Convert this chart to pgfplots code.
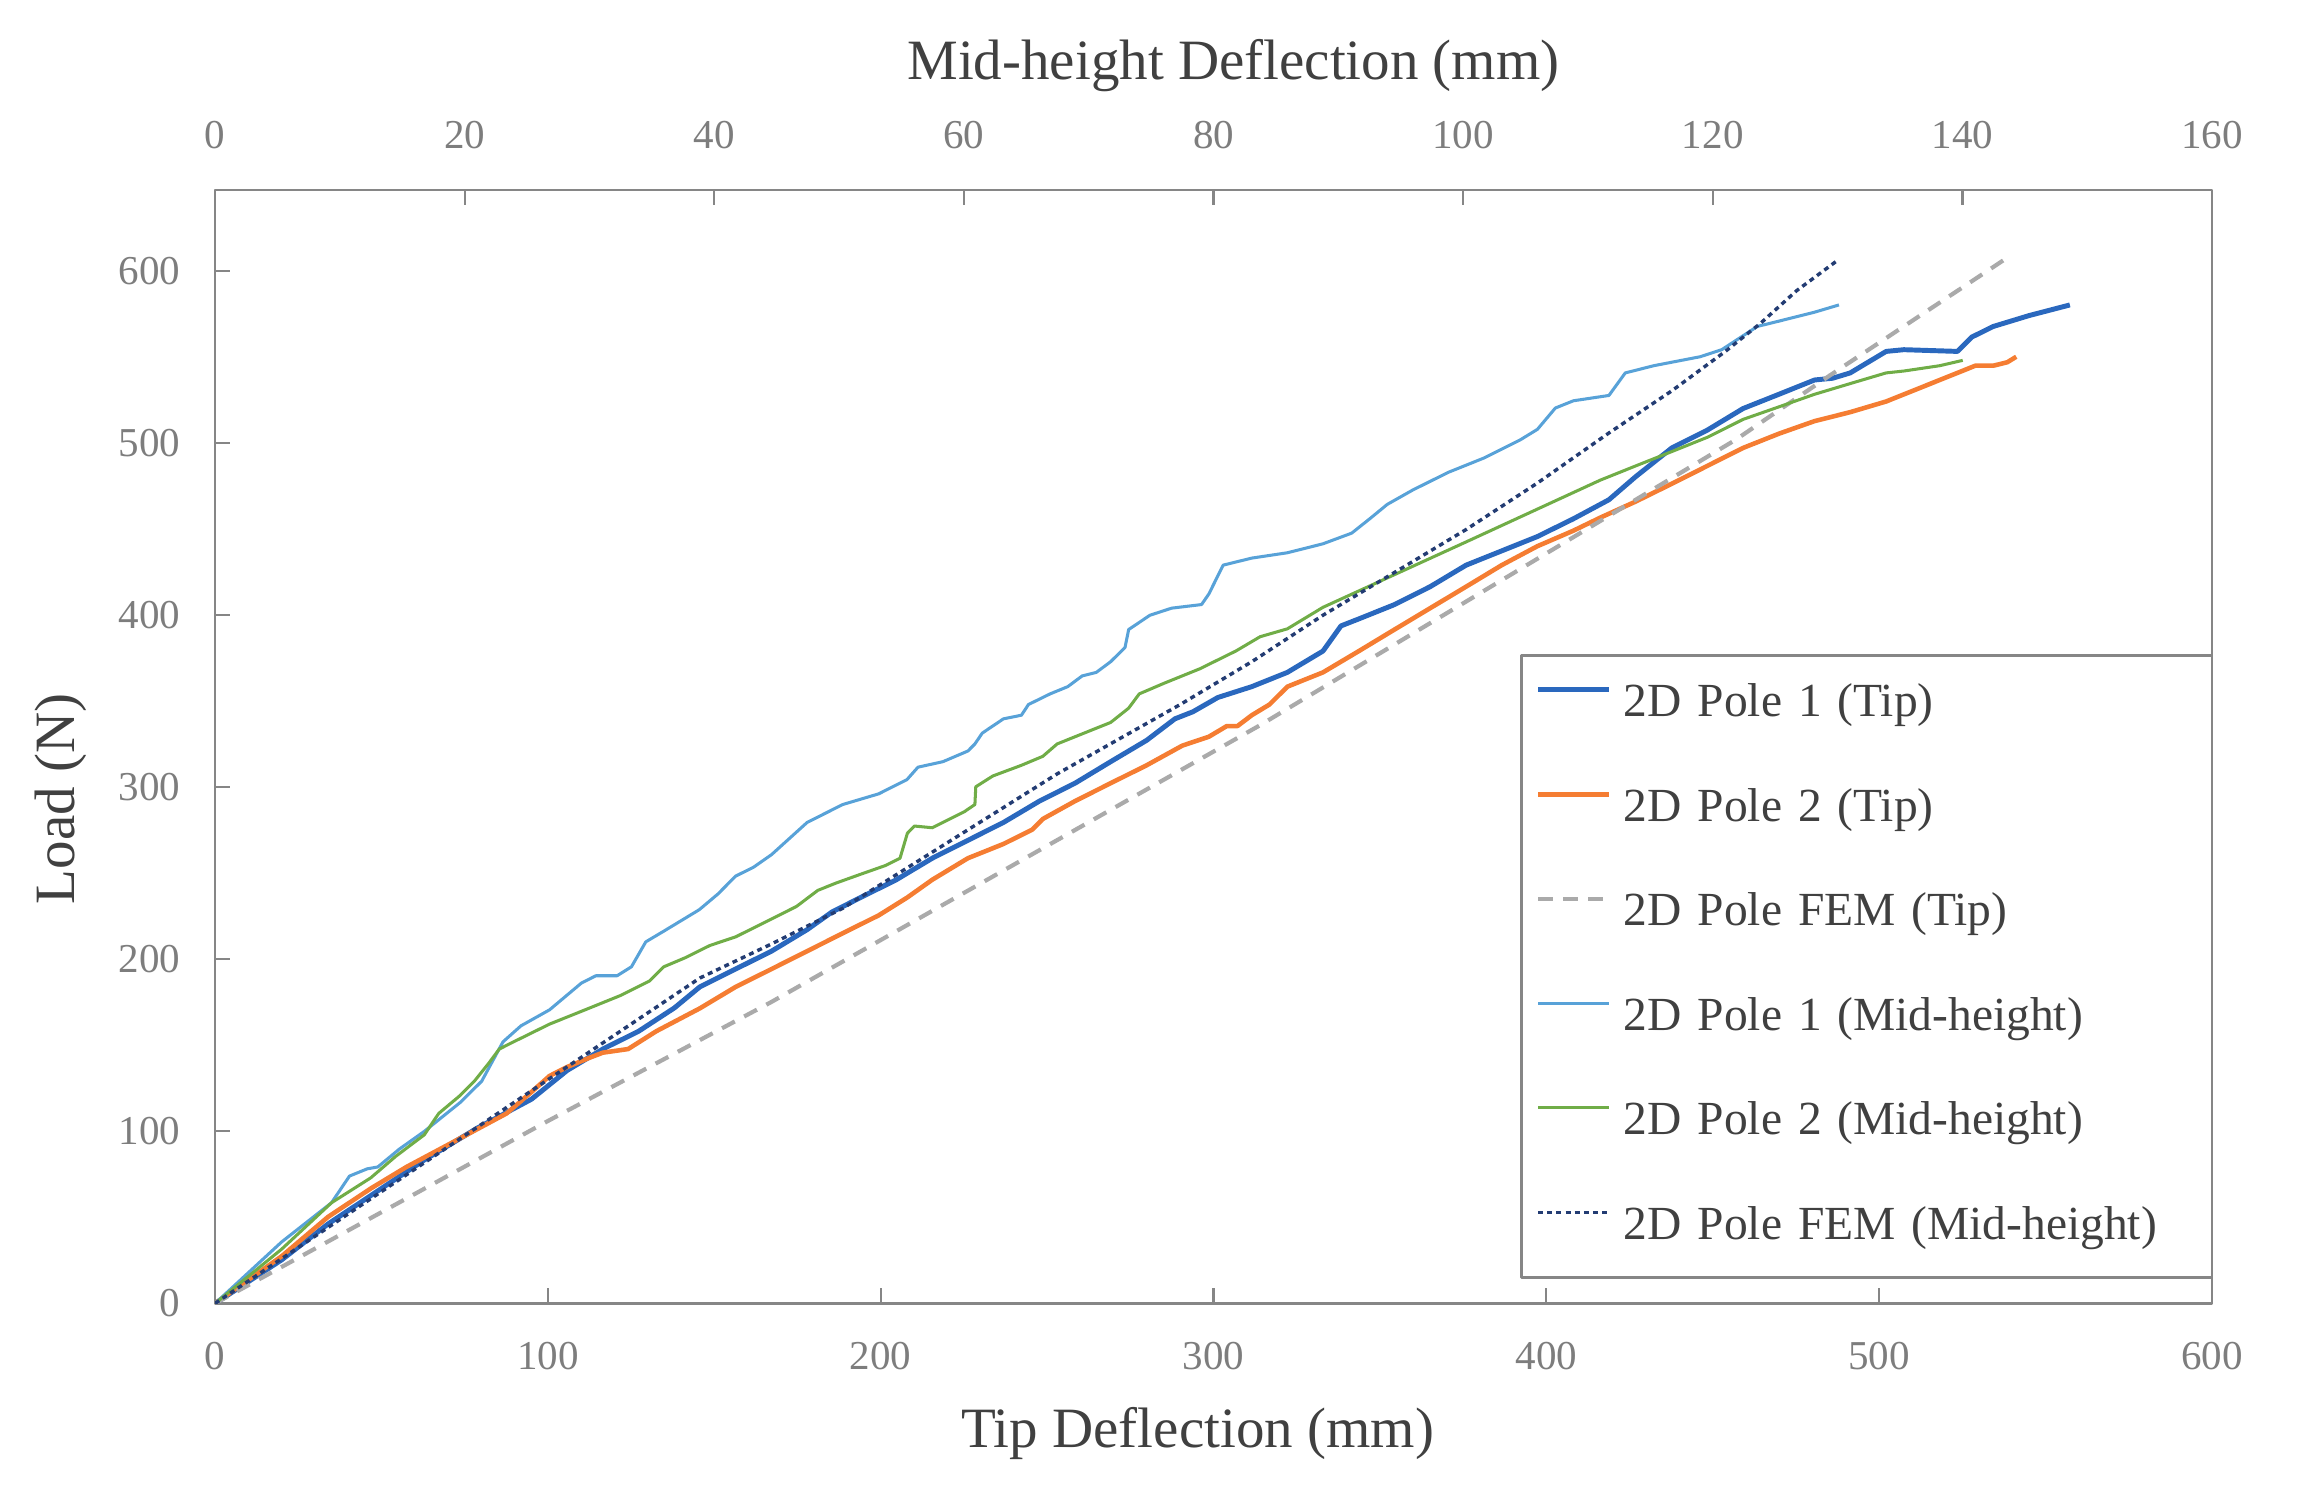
\documentclass[border=0pt]{standalone}
\usepackage{fontspec}
\setmainfont{Liberation Serif}
\usepackage{pgfplots}
\pgfplotsset{compat=1.18}
\definecolor{p1tip}{RGB}{42,104,190}
\definecolor{p2tip}{RGB}{245,125,50}
\definecolor{femtip}{RGB}{170,170,170}
\definecolor{p1mid}{RGB}{88,162,216}
\definecolor{p2mid}{RGB}{112,173,71}
\definecolor{femmid}{RGB}{35,60,115}
\definecolor{axgray}{RGB}{134,134,134}
\definecolor{tickgray}{RGB}{125,125,125}
\definecolor{labgray}{RGB}{64,64,64}
\pgfplotsset{
  common/.style={
    scale only axis, width=525.5pt, height=293pt,
    ymin=0, ymax=647,
    tick align=inside,
    major tick length=4pt,
    every tick/.style={axgray, line width=0.6pt},
    /pgf/number format/assume math mode=true,
    ticklabel style={font=\fontsize{10.8}{12}\selectfont, text=tickgray},
    label style={font=\fontsize{15}{18}\selectfont, text=labgray},
    line join=round,
  }
}
\begin{document}
\begin{tikzpicture}
\useasboundingbox (-56.6pt,-51.4pt) rectangle (548.4pt,343pt);
\begin{axis}[common,
  xmin=0, xmax=600,
  xtick={0,100,...,600}, ytick={0,100,...,600},
  xtick pos=left, ytick pos=left,
  axis line style={axgray, line width=0.65pt},
  xticklabel shift=6.6pt, yticklabel shift=5.6pt,
  xlabel={Tip Deflection (mm)},
  xlabel style={at={(axis description cs:0.492,-0.117)}, anchor=center},
  ylabel={Load (N)},
  ylabel style={at={(axis description cs:-0.0772,0.453)}, anchor=center},
]
\addplot[p1tip, line width=1.3pt] coordinates {
(0,0)(20,25.3)(33.9,46.1)(46.8,62.7)(62.9,83.4)(79,102.1)(95.1,118.7)(105.8,135.4)(116.5,147.8)(127.3,158.2)(138,171.7)(145.7,184)(156.4,194.3)(167.2,204.7)(177.9,217.2)(185.4,227.5)(194,235.9)(204.7,246.2)(215.5,258.7)(226.2,269.1)(236.9,279.5)(247.7,291.9)(258.4,302.3)(269.1,314.8)(279.9,327.2)(288.4,339.7)(293.8,343.8)(301.3,352.1)(311.5,358.4)(322.2,366.7)(332.9,379.1)(338.3,393.7)(343.7,397.8)(354.4,406.1)(365.1,416.5)(375.9,429)(386.6,437.3)(397.3,445.6)(408.1,455.9)(418.8,467)(426.9,480.5)(437.7,497.1)(448.4,507.5)(459.1,520)(469.9,528.3)(480.6,536.6)(486,537.6)(491.3,540.7)(502.1,553.2)(507.4,554.2)(523.5,553.2)(527.8,561.5)(534.3,567.7)(545,574)(557.3,580.2)
};
\addplot[p2tip, line width=1.2pt] coordinates {
(0,0)(20,27.4)(33.9,50.2)(46.8,66.8)(57.5,79.3)(73.6,95.9)(87.6,110.4)(95.1,122.9)(100.5,132.2)(105.8,137.4)(112.3,142.6)(116.5,145.7)(124.1,147.8)(132.6,158.2)(145.7,171.5)(156.4,183.9)(167.2,194.3)(177.9,204.7)(188.6,215.1)(199.4,225.5)(208,235.9)(215.5,246.2)(226.2,258.7)(236.9,267)(245.5,275.3)(248.7,281.5)(258.4,291.9)(269.1,302.3)(279.9,312.7)(290.6,324.1)(298.6,329.3)(304,335.5)(307.2,335.5)(311.5,341.8)(316.8,348)(322.2,358.4)(332.9,366.7)(343.7,379.1)(354.4,391.6)(365.1,404)(375.9,416.5)(386.6,429)(397.3,440)(408.1,449)(416.2,456.6)(426.9,466)(437.7,476.3)(448.4,486.7)(459.1,497.1)(469.9,505.4)(480.6,512.7)(491.3,517.9)(502.1,524.1)(512.8,532.4)(523.5,540.7)(528.9,544.9)(534.3,544.9)(538.5,546.9)(541.2,550.1)
};
\addplot[femtip, line width=1.1pt, dash pattern=on 3.8pt off 2.8pt] coordinates {
(0,0)(100,106)(167,175)(314,336)(457,502)(485,539)(538,607)
};
\end{axis}
\begin{axis}[common,
  xmin=0, xmax=160,
  xtick={0,20,...,160}, ytick=\empty,
  xtick pos=right, xticklabel pos=right,
  axis line style={draw=none},
  xticklabel shift=7.3pt,
  xlabel={Mid-height Deflection (mm)},
  xlabel style={at={(axis description cs:0.51,1.1114)}, anchor=center},
  legend image code/.code={\draw[#1] (0pt,4.1pt) -- (18.7pt,4.1pt);},
  legend style={
    at={(axis description cs:0.6535,0.5829)}, anchor=north west,
    draw=axgray, line width=0.65pt,
    inner xsep=3.8pt, inner ysep=7.1pt,
    row sep=15.5pt, column sep=3.2pt,
    font=\fontsize{12.5}{15}\selectfont, text=labgray,
    nodes={inner sep=0pt, text height=9pt, text depth=3pt, text width=151pt},
    cells={anchor=west},
  },
]
\addlegendimage{p1tip, line width=1.3pt}
\addlegendentry{2D Pole 1 (Tip)}
\addlegendimage{p2tip, line width=1.2pt}
\addlegendentry{2D Pole 2 (Tip)}
\addlegendimage{femtip, line width=1.1pt, dash pattern=on 3.8pt off 2.8pt}
\addlegendentry{2D Pole FEM (Tip)}
\addplot[p1mid, line width=0.8pt] coordinates {
(0,0)(5.33,35.7)(9.33,58.5)(10.77,74)(12.19,78.2)(13.04,79.3)(14.77,89.7)(16.77,100)(19.63,116.7)(21.36,129.1)(23.07,152)(24.51,161.3)(26.8,170.6)(29.36,186.2)(30.51,190.4)(32.21,190.4)(33.36,195.6)(34.51,210.1)(35.95,216.3)(38.8,228.8)(40.29,237.9)(41.71,248.3)(43.15,253.5)(44.59,260.8)(47.44,279.5)(50.29,289.9)(53.17,296.1)(55.44,304.4)(56.32,311.6)(58.32,314.8)(60.32,321)(60.88,325.1)(61.47,331.4)(63.17,339.7)(64.61,341.8)(65.17,348)(66.91,354.2)(68.32,358.4)(69.47,364.6)(70.61,366.7)(71.76,372.9)(72.91,381.2)(73.2,391.6)(74.91,399.9)(76.64,404)(79.04,406.1)(79.63,412.3)(80.77,429)(83.07,433.1)(85.92,436.2)(88.77,441.4)(91.07,447.6)(92.51,455.9)(93.92,464.3)(95.95,472.6)(98.8,482.9)(101.65,491.2)(104.53,501.6)(105.95,507.9)(107.39,520.3)(108.83,524.5)(111.68,527.6)(112.99,540.7)(115.28,544.9)(118.99,550.1)(120.72,554.2)(123.57,567.7)(125.31,570.8)(128.16,576)(130.11,580.2)
};
\addlegendentry{2D Pole 1 (Mid-height)}
\addplot[p2mid, line width=0.8pt] coordinates {
(0,0)(5.33,31.5)(9.33,58.5)(12.48,73)(14.48,85.5)(16.77,98)(17.92,110.4)(19.63,120.8)(20.77,129.1)(21.92,139.5)(22.77,147.8)(23.92,152)(26.8,162.3)(29.65,170.6)(32.51,179)(34.8,187.3)(35.95,195.6)(37.65,200.8)(39.65,208)(41.71,213)(44.59,223.4)(46.59,230.7)(48.29,240)(49.73,244.2)(51.73,249.4)(53.73,254.5)(54.88,258.7)(55.47,273.2)(56.03,277.4)(57.47,276.4)(58.32,279.5)(60.03,285.7)(60.88,289.9)(60.95,300.2)(62.32,306.5)(64.61,312.7)(66.32,317.9)(67.47,325.1)(70.35,333.5)(71.76,337.6)(73.2,345.9)(74.05,354.2)(76.05,360.4)(78.91,368.8)(81.79,379.1)(83.73,387.4)(85.92,392)(88.77,404.5)(100.24,442.5)(110.99,478.4)(113.84,486.7)(116.72,495)(119.57,503.3)(122.43,513.7)(125.31,521)(128.16,528.3)(131.01,534.5)(133.89,540.7)(135.31,541.8)(138.19,544.9)(140.03,548)
};
\addlegendentry{2D Pole 2 (Mid-height)}
\addplot[femmid, line width=0.9pt, dash pattern=on 1.3pt off 1.1pt] coordinates {
(0,0)(26.67,130)(38.85,189.1)(44.59,208.9)(50.29,229.6)(67.47,307.7)(77.33,348)(83.07,372.9)(88.77,399.9)(94.51,424.8)(100.24,449.7)(105.95,476.7)(111.68,505.8)(116.72,530.3)(121.01,553.2)(123.87,569.8)(126.72,588.5)(130.11,606.7)
};
\addlegendentry{2D Pole FEM (Mid-height)}
\end{axis}
\end{tikzpicture}
\end{document}
